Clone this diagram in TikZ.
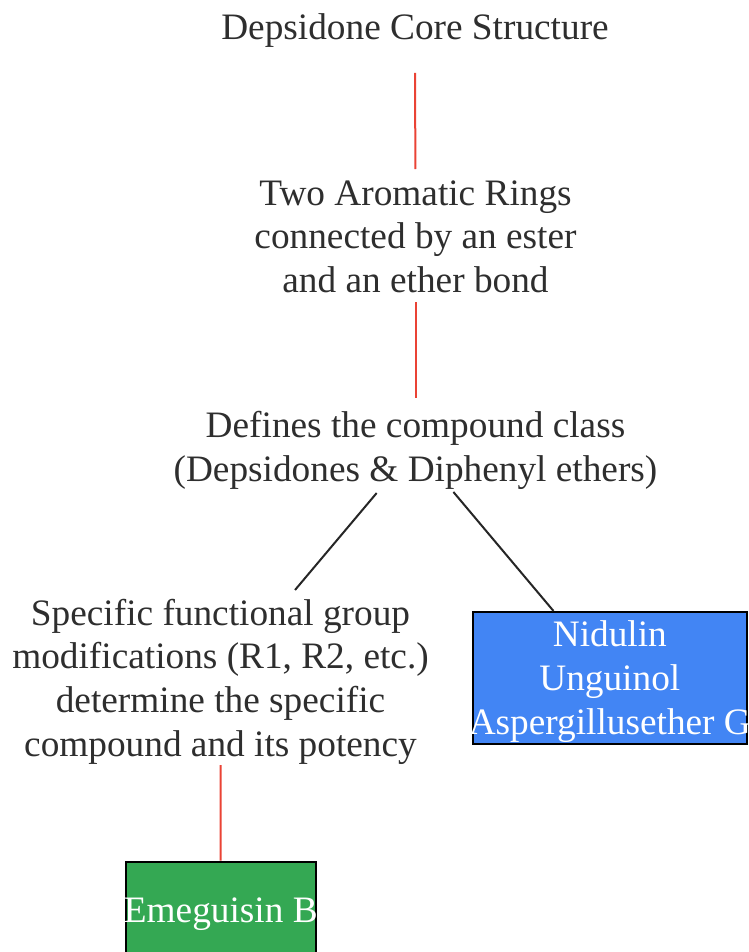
\documentclass[tikz,border=0pt]{standalone}
\usepackage{fontspec}
\setmainfont{Liberation Serif}
\definecolor{txt}{HTML}{2E2E2E}
\definecolor{redl}{HTML}{EA4335}
\definecolor{bluebox}{HTML}{4285F4}
\definecolor{greenbox}{HTML}{34A853}
\newcommand\cl[1]{\rule{0pt}{24.6pt}\smash{#1}}
\newcommand\ol[1]{\makebox[0pt]{\cl{#1}}}
\tikzset{
  lbl/.style={align=center, inner sep=0pt, text=txt, font=\fontsize{37.3}{43.8}\selectfont},
  boxb/.style={lbl, draw=black, line width=2pt, text=white},
  redline/.style={draw=redl, line width=2pt},
  blkline/.style={draw=black!85, line width=2pt},
}
\begin{document}
\begin{tikzpicture}[x=1pt,y=-1pt]
\useasboundingbox (0,0) rectangle (748,952);
\node[lbl] (t) at (415,26.75) {\cl{Depsidone Core Structure}};
\node[lbl] (n2) at (415.5,236.5) {\cl{Two Aromatic Rings}\\\cl{connected by an ester}\\\cl{and an ether bond}};
\node[lbl] (n3) at (415.5,446.9) {\cl{Defines the compound class}\\\cl{(Depsidones \& Diphenyl ethers)}};
\node[lbl] (left) at (220.5,678.5) {\cl{Specific functional group}\\\cl{modifications (R1, R2, etc.)}\\\cl{determine the specific}\\\cl{compound and its potency}};
\node[boxb, fill=bluebox, minimum width=274pt, minimum height=132.3pt] (blue) at (609.8,678.1) {\ol{Nidulin}\\\ol{Unguinol}\\\ol{Aspergillusether G}};
\node[boxb, fill=greenbox, minimum width=190.5pt, minimum height=97.6pt] (green) at (220.8,910.5) {\ol{Emeguisin B}};
\draw[redline, shorten <=46.25pt, shorten >=67.5pt] (t.center) -- (n2.center);
\draw[redline, shorten <=65.5pt, shorten >=48.9pt] (n2.center) -- (n3.center);
\draw[blkline, shorten <=60.3pt, shorten >=115.7pt] (n3.center) -- (left.center);
\draw[blkline, shorten <=58.9pt] (n3.center) -- (blue);
\draw[redline, shorten <=86.5pt] (left.center) -- (green);
\end{tikzpicture}
\end{document}
